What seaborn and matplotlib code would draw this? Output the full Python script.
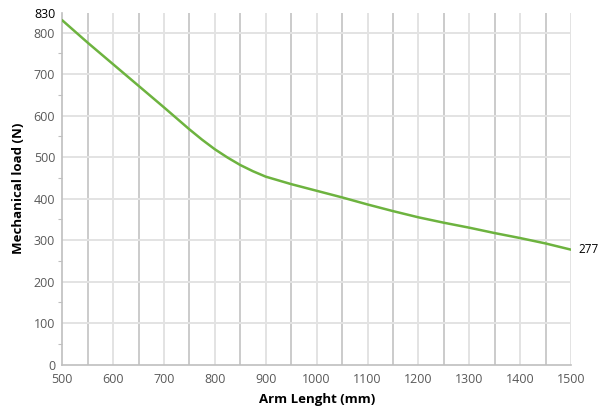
import pandas as pd
import matplotlib.pyplot as plt
import seaborn as sns

# Values
arm_length = [500, 550, 600, 650, 700, 750, 775, 800, 825, 850, 875, 900, 950, 1000,
              1050, 1100, 1150, 1200, 1250, 1300, 1350, 1400, 1450, 1500]
load = [830, 776, 724, 672, 620, 567, 542, 519, 499, 481, 466, 453, 435, 419,
        403, 386, 370, 355, 342, 330, 317, 305, 292, 277]
y_ticks = [0, 100, 200, 300, 400, 500, 600, 700, 800]
x_ticks = [500, 600, 700, 800, 900, 1000, 1100, 1200, 1300, 1400, 1500]

df = pd.DataFrame({'Arm Lenght (mm)': arm_length, 'Mechanical load (N)': load})

sns.set_theme(style='white')
plt.rcParams['font.family'] = ['Open Sans', 'DejaVu Sans']

fig = plt.figure(figsize=(5.98, 4.12), dpi=100)
ax = fig.add_axes([0.104, 0.115, 0.851, 0.854])

ymax = 848
# vertical grid: every 50, alternating shades
for xv in range(550, 1501, 50):
    c = '#cbcbcb' if xv % 100 == 50 else '#e3e3e3'
    ax.axvline(xv, color=c, lw=1.4, zorder=0)
for yv in y_ticks[1:]:
    ax.axhline(yv, color='#e3e3e3', lw=1.4, zorder=0)

sns.lineplot(data=df, x='Arm Lenght (mm)', y='Mechanical load (N)', ax=ax,
             color='#6db33f', lw=1.8, zorder=3)

ax.set_xlim(500, 1500)
ax.set_ylim(0, ymax)
ax.set_xticks(x_ticks)
ax.set_yticks(y_ticks + [ymax])
ax.set_yticklabels([str(v) for v in y_ticks] + [str(load[0])])
ax.set_yticks(range(50, 800, 100), minor=True)
ax.tick_params(axis='x', which='major', labelsize=9, colors='#595959', length=0, pad=6)
ax.tick_params(axis='y', which='major', labelsize=9, colors='#595959', length=0, pad=5)
ax.tick_params(axis='y', which='minor', length=3, width=0.8, color='#bfbfbf', left=True)
ax.get_yticklabels()[-1].set_color('black')

for s in ['top', 'right']:
    ax.spines[s].set_visible(False)
for s in ['left', 'bottom']:
    ax.spines[s].set_color('#bfbfbf')
    ax.spines[s].set_linewidth(1.2)

ax.set_xlabel('Arm Lenght (mm)', fontsize=9.5, fontweight='bold', color='black', labelpad=5)
ax.set_ylabel('Mechanical load (N)', fontsize=9.5, fontweight='bold', color='black', labelpad=6)

ax.annotate(str(load[-1]), xy=(arm_length[-1], load[-1]), xytext=(5, 0),
            textcoords='offset points', va='center', ha='left', fontsize=8.5,
            color='black', annotation_clip=False)

plt.savefig('out.png', dpi=100)
